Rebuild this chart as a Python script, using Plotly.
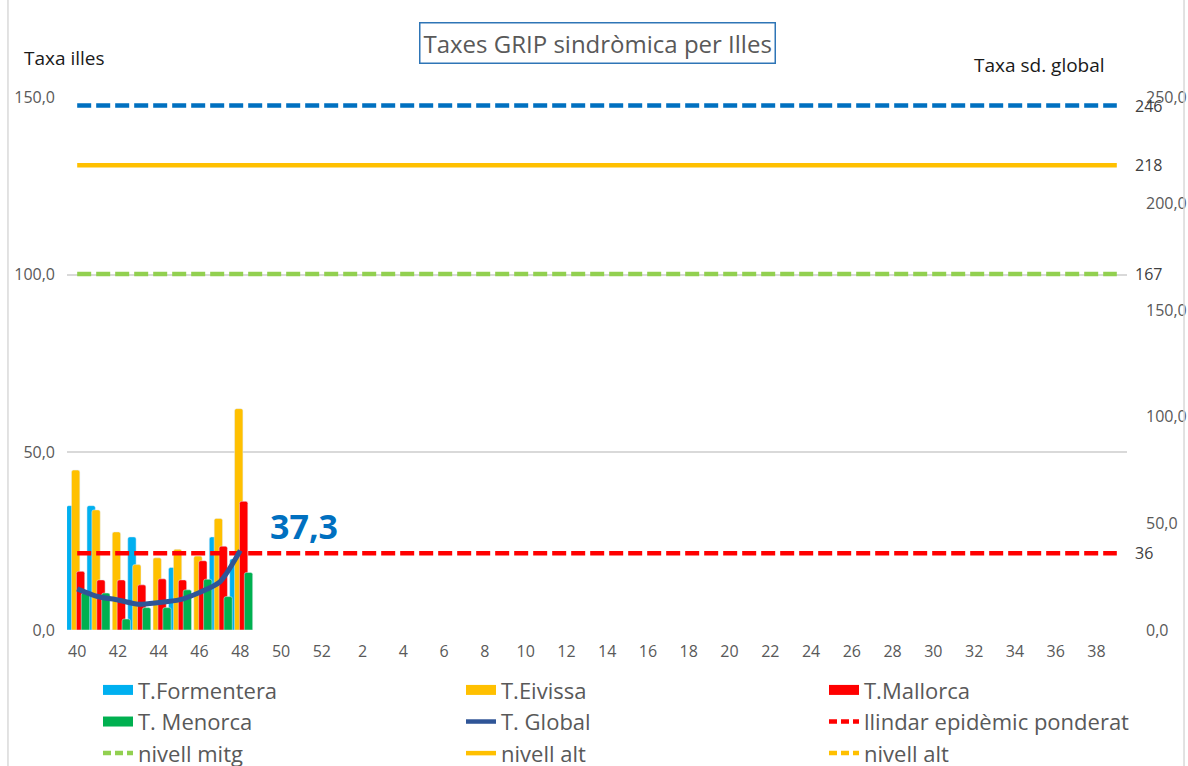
import plotly.graph_objects as go

# ---------------- data ----------------
weeks = [str(w) for w in list(range(40, 53)) + list(range(1, 40))]
tick_weeks = weeks[::2]

formentera = [35.0, 35.0, 0.0, 26.2, 0.0, 17.6, 0.0, 26.2, 20.0]
eivissa = [45.0, 33.8, 27.6, 18.4, 20.3, 22.7, 20.8, 31.4, 62.3]
mallorca = [16.5, 14.1, 14.1, 12.7, 14.4, 14.1, 19.5, 23.6, 36.2]
menorca = [10.4, 10.4, 3.1, 6.3, 6.3, 11.3, 14.3, 9.4, 16.2]
global_rate = [19.3, 15.7, 14.1, 12.1, 12.9, 14.1, 17.6, 22.6, 37.3]

llindar = 36      # llindar epidèmic ponderat
nivell_mitg = 167
nivell_alt = 218
nivell_molt_alt = 246

last_label = "37,3"

# ---------------- helpers ----------------
n = len(weeks)


def pad(vals):
    return vals + [None] * (n - len(vals))


def const(v):
    return [v] * n


FONT = "'Open Sans', 'Noto Sans', sans-serif"
GREY = "#595959"

C_FOR = "#00B0F0"
C_EIV = "#FFC000"
C_MAL = "#FF0000"
C_MEN = "#00B050"
C_GLO = "#2F5597"
C_LLI = "#FF0000"
C_MIT = "#92D050"
C_ALT = "#FFC000"
C_MALT = "#0070C0"

fig = go.Figure()

bar_w = 0.41
offsets = [-0.52, -0.28, -0.04, 0.20]
bars = [("T.Formentera", formentera, C_FOR), ("T.Eivissa", eivissa, C_EIV),
        ("T.Mallorca", mallorca, C_MAL), ("T. Menorca", menorca, C_MEN)]
for (name, vals, col), off in zip(bars, offsets):
    fig.add_trace(go.Bar(x=weeks, y=pad(vals), name=name, marker_color=col,
                         marker_cornerradius=2, width=bar_w, offset=off,
                         showlegend=False, hoverinfo="x+y+name"))

# reference lines (right axis)
fig.add_trace(go.Scatter(x=weeks, y=const(nivell_molt_alt), yaxis="y2", mode="lines",
                         line=dict(color=C_MALT, width=4.5, dash="14px,5px"),
                         name="nivell alt", showlegend=False))
fig.add_trace(go.Scatter(x=weeks, y=const(nivell_alt), yaxis="y2", mode="lines",
                         line=dict(color=C_ALT, width=4.5), name="nivell alt",
                         showlegend=False))
fig.add_trace(go.Scatter(x=weeks, y=const(nivell_mitg), yaxis="y2", mode="lines",
                         line=dict(color=C_MIT, width=4.5, dash="14px,5px"),
                         name="nivell mitg", showlegend=False))
fig.add_trace(go.Scatter(x=weeks, y=const(llindar), yaxis="y2", mode="lines",
                         line=dict(color=C_LLI, width=4.5, dash="14px,5px"),
                         name="llindar epidèmic ponderat", showlegend=False))
fig.add_trace(go.Scatter(x=weeks, y=pad(global_rate), yaxis="y2", mode="lines",
                         line=dict(color=C_GLO, width=5, shape="spline", smoothing=0.7),
                         name="T. Global", showlegend=False))

# legend entries (Excel-like legend keys)
legend_items = [
    ("T.Formentera", dict(color=C_FOR, width=10)),
    ("T.Eivissa", dict(color=C_EIV, width=10)),
    ("T.Mallorca", dict(color=C_MAL, width=10)),
    ("T. Menorca", dict(color=C_MEN, width=10)),
    ("T. Global", dict(color=C_GLO, width=4.5)),
    ("llindar epidèmic ponderat", dict(color=C_LLI, width=4.5, dash="8px,4px")),
    ("nivell mitg", dict(color=C_MIT, width=4.5, dash="8px,4px")),
    ("nivell alt", dict(color=C_ALT, width=4.5)),
    ("nivell alt", dict(color=C_ALT, width=4.5, dash="8px,4px")),
]
for i, (name, ln) in enumerate(legend_items):
    fig.add_trace(go.Scatter(x=[None], y=[None], mode="lines", line=ln, name=name,
                             legendrank=i + 1, showlegend=True, hoverinfo="skip"))

annotations = []
for v in [nivell_molt_alt, nivell_alt, nivell_mitg, llindar]:
    annotations.append(dict(x=n - 1, y=v, xref="x", yref="y2", text=str(v),
                            showarrow=False, xanchor="left", xshift=16,
                            font=dict(size=16, color="#404040", family=FONT)))
annotations.append(dict(x=len(global_rate) - 1, y=global_rate[-1], xref="x", yref="y2",
                        text="<b>" + last_label + "</b>", showarrow=False, xanchor="left",
                        yanchor="middle", xshift=28, yshift=24,
                        font=dict(size=34, color="#0070C0", family=FONT)))
annotations.append(dict(x=0.5, y=1, xref="paper", yref="paper", yanchor="middle", yshift=54,
                        text="Taxes GRIP sindròmica per Illes", showarrow=False,
                        font=dict(size=24, color=GREY, family=FONT),
                        bordercolor="#2E75B6", borderwidth=1.5, borderpad=3, bgcolor="white"))
annotations.append(dict(x=-0.0425, y=1, xref="paper", yref="paper", xanchor="left",
                        yanchor="middle", yshift=39, text="Taxa illes", showarrow=False,
                        font=dict(size=19, color="#1A1A1A", family=FONT)))
annotations.append(dict(x=0.981, y=1, xref="paper", yref="paper", xanchor="right",
                        yanchor="middle", yshift=32, text="Taxa sd. global", showarrow=False,
                        font=dict(size=19, color="#1A1A1A", family=FONT)))

shapes = [
    dict(type="line", xref="paper", yref="paper", x0=-0.0557, x1=-0.0557, y0=-0.5, y1=1.3,
         line=dict(color="#D9D9D9", width=1.5)),
    dict(type="line", xref="paper", yref="paper", x0=1.0538, x1=1.0538, y0=-0.5, y1=1.3,
         line=dict(color="#D9D9D9", width=1.5)),
]

fig.update_layout(
    width=1188, height=766,
    margin=dict(l=67, r=61, t=97, b=136, autoexpand=False),
    paper_bgcolor="white", plot_bgcolor="white",
    barmode="overlay",
    separators=",.",
    font=dict(family=FONT, color=GREY, size=16),
    xaxis=dict(type="category", categoryorder="array", categoryarray=weeks,
               tickmode="array", tickvals=tick_weeks, ticktext=tick_weeks,
               range=[-0.5, n - 0.5], showgrid=False, zeroline=False, showline=False,
               ticks="", tickfont=dict(size=16, color=GREY), ticklabelstandoff=10),
    yaxis=dict(range=[0, 150], tickvals=[0, 50, 100, 150], tickformat=".1f",
               showgrid=True, gridcolor="#D9D9D9", gridwidth=1.5, zeroline=False,
               showline=False, ticks="", tickfont=dict(size=16, color=GREY),
               ticklabelstandoff=11),
    yaxis2=dict(range=[0, 250], tickvals=[0, 50, 100, 150, 200, 250], tickformat=".1f",
                overlaying="y", side="right", showgrid=False, zeroline=False,
                showline=False, ticks="", tickfont=dict(size=16, color=GREY),
                ticklabelstandoff=18),
    legend=dict(orientation="h", xref="paper", x=1.0566, xanchor="right",
                yref="paper", y=-0.0734, yanchor="top",
                entrywidthmode="pixels", entrywidth=318, traceorder="normal",
                font=dict(size=22, color=GREY, family=FONT), bgcolor="rgba(0,0,0,0)",
                tracegroupgap=0),
    annotations=annotations,
    shapes=shapes,
    hovermode="closest",
)

fig.write_html("out.html", config={"displayModeBar": False},
               post_script="document.body.style.margin='0px';document.body.style.overflow='hidden';")
